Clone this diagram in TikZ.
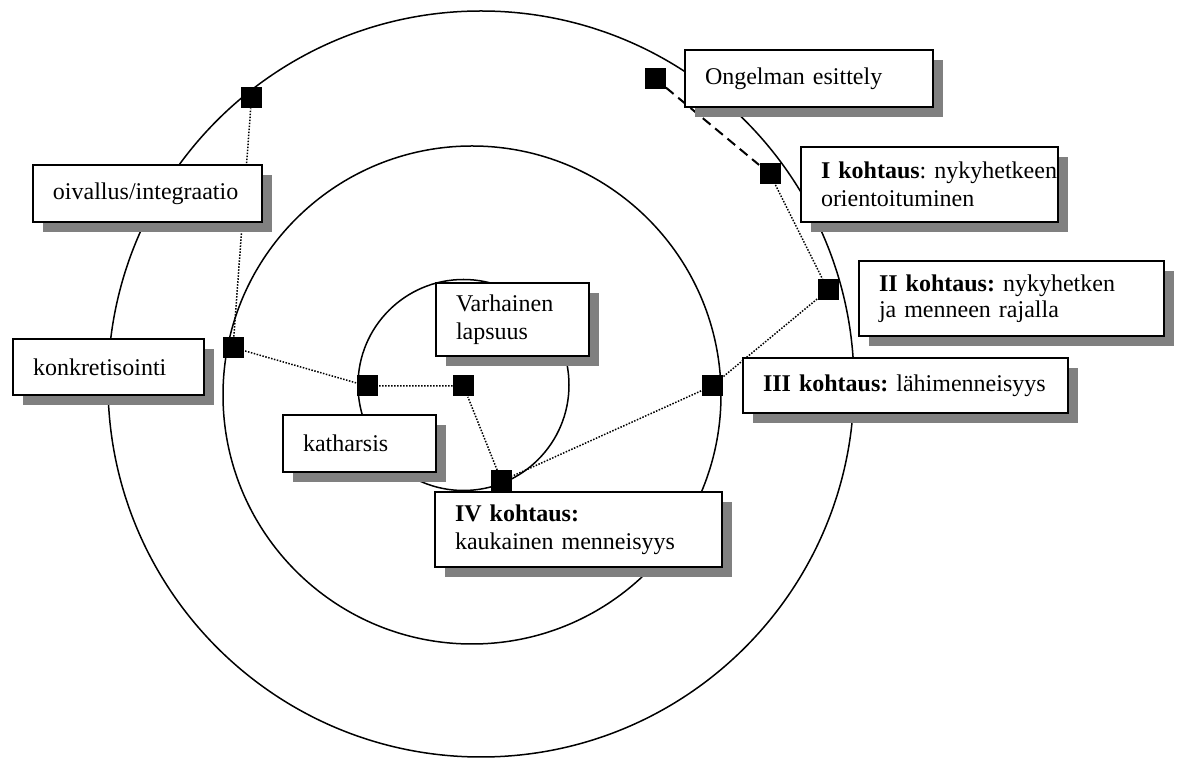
\documentclass[tikz,border=0pt]{standalone}
\usepackage{fontspec}
\setmainfont{Liberation Serif}
\usetikzlibrary{shadows}

\begin{document}
\frenchspacing
\begin{tikzpicture}[x=0.5pt,y=-0.5pt,
        tbox/.style={draw,fill=white,line width=1pt,anchor=west,align=left,
            inner xsep=10pt,inner ysep=0pt,font=\fontsize{12}{14}\selectfont,
            drop shadow={shadow xshift=5pt,shadow yshift=-5pt,fill=gray,opacity=1}},
        knot/.style={fill=black,inner sep=0pt,minimum size=10.5pt},
        link/.style={line width=0.75pt,dash pattern=on 0.75pt off 0.75pt}]
        \useasboundingbox (0,0) rectangle (1180,758);
        \pgfmathsetmacro\rOut{373}
        \pgfmathsetmacro\rMid{249}
        \pgfmathsetmacro\rIn{105.5}
        \draw[line width=0.75pt] (481,384) circle (\rOut);
        \draw[line width=0.75pt] (472,395) circle (\rMid);
        \draw[line width=0.75pt] (463.5,385) circle (\rIn);

        \node[knot] (pInteg) at (251.5,97.5) {};
        \node[knot] (pOng) at (655,78.5) {};
        \node[knot] (pI) at (770,174) {};
        \node[knot] (pII) at (828,290) {};
        \node[knot] (pIII) at (712,386) {};
        \node[knot] (pIV) at (501.5,481) {};
        \node[knot] (pVarh) at (463.5,386) {};
        \node[knot] (pKath) at (367,386) {};
        \node[knot] (pKonkr) at (233,347.5) {};

        \draw[line width=1pt,dash pattern=on 5pt off 3pt] (pOng) -- (pI);
        \draw[link] (pI) -- (pII) -- (pIII) -- (pIV) -- (pVarh) -- (pKath) -- (pKonkr) -- (pInteg);

        \node[tbox,text width=94.5pt,minimum height=28.5pt] (integ) at (32,193.5) {oivallus/integraatio};
        \node[tbox,text width=104pt,minimum height=28.5pt] (ongelma) at (684,78.5) {Ongelman esittely};
        \node[tbox,text width=108.5pt,minimum height=37.5pt] (kI) at (800,184.5)
            {\mbox{\textbf{I kohtaus}: nykyhetkeen}\\orientoituminen};
        \node[tbox,text width=132.5pt,minimum height=37.5pt,font=\fontsize{12}{13}\selectfont] (kII) at (858,298.5)
            {\textbf{II kohtaus:} nykyhetken\\ja menneen rajalla};
        \node[tbox,text width=142.5pt,minimum height=27.5pt] (kIII) at (742,385.5)
            {\mbox{\textbf{III kohtaus:} lähimenneisyys}};
        \node[tbox,text width=75.5pt,minimum height=28pt] (konkr) at (12,367) {konkretisointi};
        \node[tbox,text width=56.5pt,minimum height=28.5pt] (kathar) at (282,443.5) {katharsis};
        \node[tbox,text width=56.5pt,minimum height=36.5pt] (varh) at (435,319.5) {Varhainen\\lapsuus};
        \node[tbox,text width=123.5pt,minimum height=37.5pt] (kIV) at (434,529.5)
            {\textbf{IV kohtaus:}\\kaukainen menneisyys};
\end{tikzpicture}
\end{document}
